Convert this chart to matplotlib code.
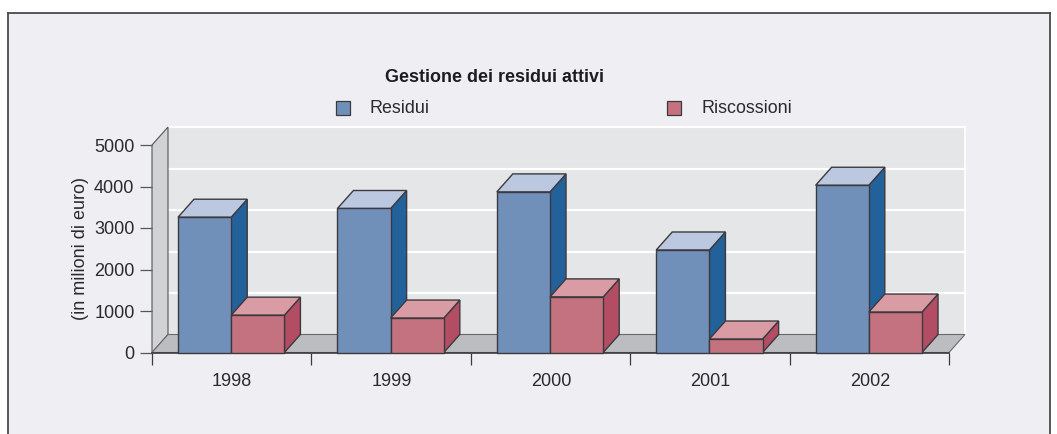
import matplotlib
matplotlib.use("Agg")
import matplotlib.pyplot as plt
from matplotlib.patches import Rectangle, Polygon
from matplotlib.lines import Line2D

plt.rcParams['font.family'] = ['Liberation Sans', 'DejaVu Sans']

years = ['1998', '1999', '2000', '2001', '2002']
residui = [3260, 3470, 3870, 2470, 4030]
riscossioni = [900, 830, 1340, 325, 975]
yticks = [0, 1000, 2000, 3000, 4000, 5000]
title = 'Gestione dei residui attivi'
ylabel = '(in milioni di euro)'
series_names = ['Residui', 'Riscossioni']

W, H = 1057, 434
fig = plt.figure(figsize=(W / 100, H / 100), dpi=100, facecolor='white')

PANEL = '#eeeef3'
EDGE = '#3c3a3e'
TXT = '#2b2a2c'

fig.patches.append(Rectangle((8 / W, 0), 1042 / W, 1 - 13 / H, transform=fig.transFigure,
                             facecolor=PANEL, edgecolor='none', zorder=-5))
for xs, ys in [((8, 8), (434, 13)), ((8, 1050), (13, 13)), ((1050, 1050), (13, 434))]:
    fig.add_artist(Line2D([x / W for x in xs], [1 - y / H for y in ys], color='#4a4a4d', lw=1.3))

# plot axes: category boundaries 152..949 px, value 0..5000 = 352.5..145 px
ax = fig.add_axes([152 / W, 1 - 352.5 / H, 797 / W, 207.5 / H])
ax.set_xlim(0, 5)
ax.set_ylim(0, 5000)
ax.patch.set_alpha(0)
for s in ax.spines.values():
    s.set_visible(False)

DX = 16 / 159.4   # depth offset in category units
DY = 18 / 207.5 * 5000  # depth offset in value units


def poly(pts, fc, ec='none', lw=0, z=1):
    ax.add_patch(Polygon(pts, closed=True, facecolor=fc, edgecolor=ec, lw=lw,
                         zorder=z, clip_on=False, joinstyle='miter'))


# walls and floor
poly([(DX, DY), (5 + DX, DY), (5 + DX, 5000 + DY), (DX, 5000 + DY)], '#e5e6e8')
poly([(0, 0), (DX, DY), (DX, 5000 + DY), (0, 5000)], '#d1d2d4', '#55555a', 0.8, z=1.5)
poly([(0, 0), (5, 0), (5 + DX, DY), (DX, DY)], '#bcbdc0', '#6a6a6e', 0.8, z=1.5)
for v in yticks[1:]:
    ax.plot([DX, 5 + DX], [v + DY, v + DY], color='white', lw=1.6, zorder=1.2, clip_on=False)
ax.plot([5 + DX, 5 + DX], [DY, 5000 + DY], color='white', lw=1.2, zorder=1.2, clip_on=False)
ax.plot([0, 5], [0, 0], color=EDGE, lw=1.2, zorder=1.6, clip_on=False)


def bar3d(x0, x1, v, front, top, side, z):
    poly([(x1, 0), (x1 + DX, DY), (x1 + DX, v + DY), (x1, v)], side, EDGE, 1.0, z)
    poly([(x0, v), (x1, v), (x1 + DX, v + DY), (x0 + DX, v + DY)], top, EDGE, 1.0, z)
    ax.add_patch(Rectangle((x0, 0), x1 - x0, v, facecolor=front, edgecolor=EDGE, lw=1.0,
                           zorder=z, clip_on=False))


BW = 53.2 / 159.4
for i in range(len(years)):
    c = i + 0.497
    bar3d(c - BW, c, residui[i], '#7090ba', '#bcc8e0', '#23619b', 3 + i)
    bar3d(c, c + BW, riscossioni[i], '#c4727f', '#d99ca5', '#b34d64', 3.5 + i)

# ticks
ax.set_xticks(range(6))
ax.set_xticklabels([])
ax.tick_params(axis='x', length=8.6, width=0.9, color=EDGE)
ax.set_yticks(yticks)
ax.set_yticklabels([str(v) for v in yticks], fontsize=13, color=TXT)
ax.tick_params(axis='y', length=8.6, width=0.9, color='#55555a', pad=4)
for i, y in enumerate(years):
    ax.text(i + 0.503, -705, y, ha='center', va='center', fontsize=13, color=TXT, clip_on=False)
ax.set_ylabel(ylabel, fontsize=13, color=TXT, labelpad=4)
ax.yaxis.set_label_coords(-63 / 797, 0.5)

# title and legend
fig.text(494.5 / W, 1 - 77.5 / H, title, ha='center', va='center', fontsize=12.9,
         fontweight='bold', color='#1d1c1e')
for x, fc, name, tx in [(336, '#7090ba', series_names[0], 369.5),
                        (667, '#c4727f', series_names[1], 701.5)]:
    fig.patches.append(Rectangle((x / W, 1 - 115 / H), 14 / W, 14 / H, transform=fig.transFigure,
                                 facecolor=fc, edgecolor=EDGE, lw=0.9))
    fig.text(tx / W, 1 - 108.5 / H, name, ha='left', va='center', fontsize=12.9, color=TXT)

fig.savefig('out.png', dpi=100, facecolor='white')
